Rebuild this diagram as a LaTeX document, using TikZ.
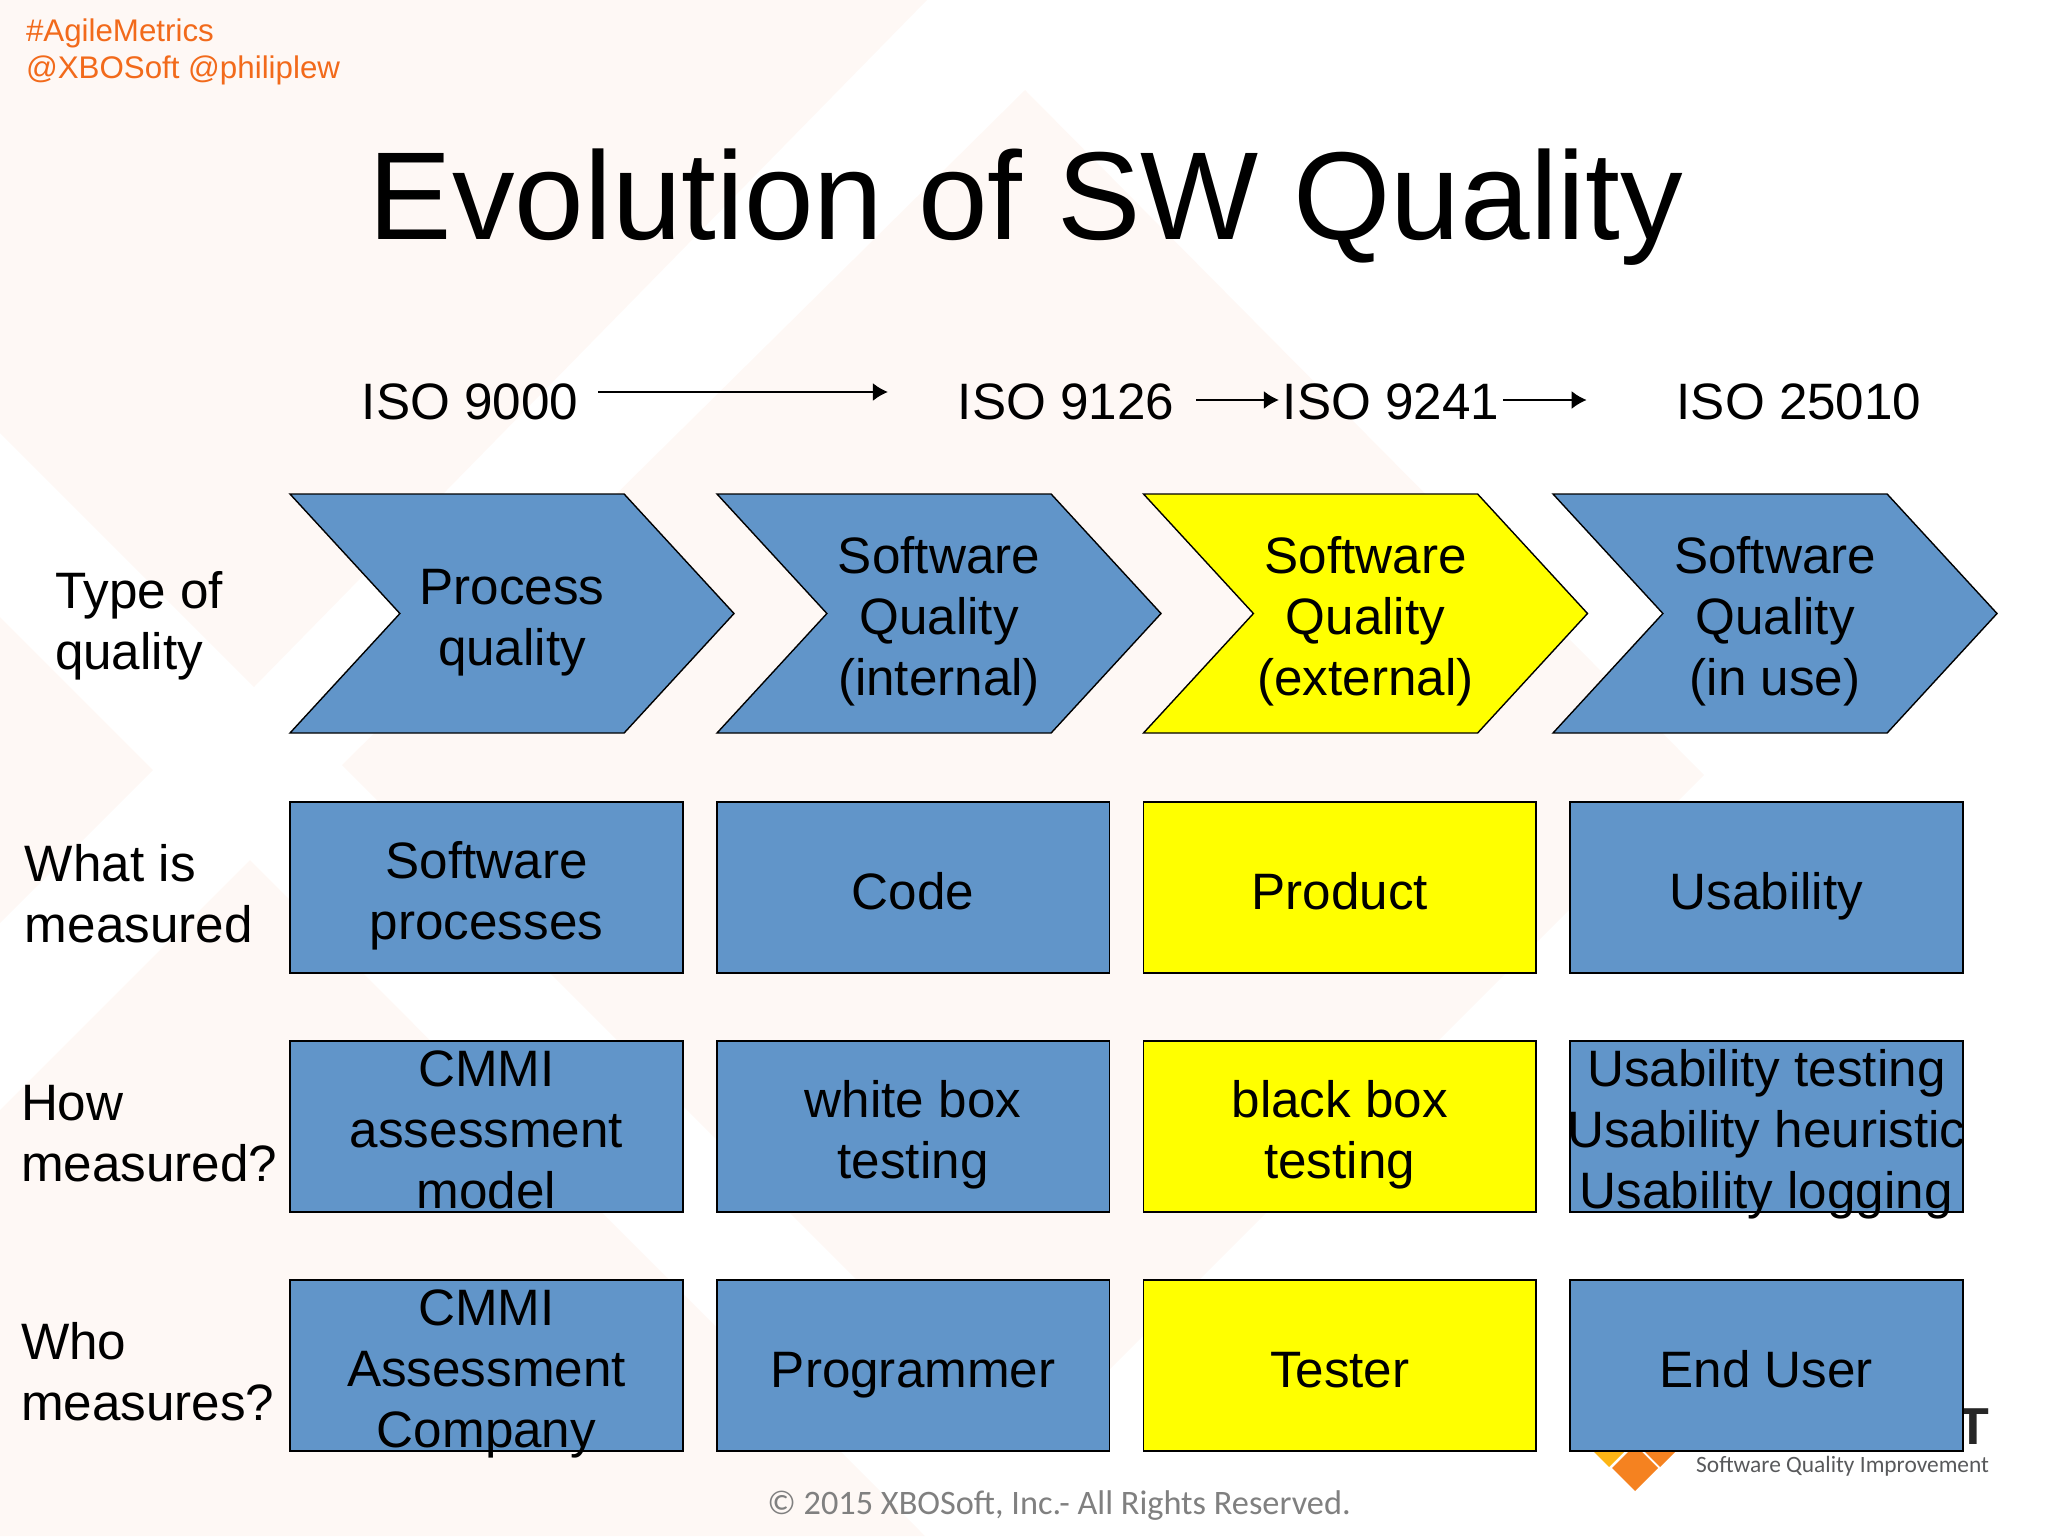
\documentclass[tikz,border=0pt]{standalone}
\usepackage{fontspec}
\setmainfont{Liberation Sans}
\newfontfamily\footfont{Carlito}
\usetikzlibrary{arrows.meta,positioning,shapes.symbols}
\definecolor{boxblue}{HTML}{6195C9}
\definecolor{boxyellow}{HTML}{FFFF00}
\definecolor{blush}{HTML}{FEF8F5}
\definecolor{tagorange}{HTML}{F26A1B}
\definecolor{logotext}{HTML}{58595B}
\definecolor{logoamber}{HTML}{FDB515}
\definecolor{logoorange}{HTML}{F58220}
\newcommand{\qstrut}{\rule[-6pt]{0pt}{33.5pt}}

\begin{document}
\begin{tikzpicture}[x=0.5pt,y=-0.5pt,>={Latex[length=7.5pt,width=9pt]},node distance=34pt and 17pt,
	every node/.style={inner sep=0pt,outer sep=0pt,align=center,font=\fontsize{25.6}{30.4}\selectfont},
	linetext/.style={execute at begin node=\qstrut,execute at end node=\qstrut},
	manylines/.style={execute at begin node=\rule{0pt}{#1}},
	twolines/.style={manylines=57.5pt},
	threelines/.style={manylines=88pt},
	every label/.style={align=center,linetext,threelines},
	qualitybox/.style={linetext,draw=black,line width=0.9pt,minimum width=196.3pt,minimum height=85.5pt},
	qualityarrow/.style={linetext,signal,signal from=west,signal to=east,signal pointer angle=94.8,
		draw=black,line width=0.7pt,minimum width=222pt,minimum height=119.5pt},
	isoname/.style={linetext,anchor=base},
	isoarrow/.style={->,line width=0.9pt},
	rowname/.style={linetext,twolines,anchor=west,align=left},
	blue/.style={fill=boxblue},
	yel/.style={fill=boxyellow}]
	\useasboundingbox (0,0) rectangle (2048,1536);

	\fill[blush] (0,0) -- (927,0) -- (254,687) -- (0,433) -- cycle;
	\fill[blush] (1025,90) -- (1704,775) -- (1028,1451) -- (342,765) -- cycle;
	\fill[blush] (0,617) -- (153,770) -- (0,923) -- cycle;
	\fill[blush] (250,860) -- (925,1536) -- (0,1536) -- (0,1110) -- cycle;

	% logo behind the last box
	\fill[logoamber] (1609,1421) -- (1632,1444) -- (1609,1467) -- (1586,1444) -- cycle;
	\fill[logoorange] (1660,1421) -- (1683,1444) -- (1660,1467) -- (1637,1444) -- cycle;
	\fill[logoorange] (1635,1445) -- (1658,1468) -- (1635,1491) -- (1612,1468) -- cycle;
	\node[anchor=base east,font=\fontsize{26}{30}\selectfont\bfseries,text=black!85] (logoT) at (1989,1444) {T};
	\node[anchor=base east,font=\fontsize{11.7}{14}\footfont,text=logotext] (logotag) at (1989,1472) {Software Quality Improvement};

	\node[anchor=north west,align=left,font=\fontsize{15.65}{18.3}\selectfont,text=tagorange] (tags) at (26,19) {\#AgileMetrics\\@XBOSoft @philiplew};
	\node[anchor=base,font=\fontsize{62.55}{70}\selectfont] (title) at (1026,239) {Evolution of SW Quality};

	\node[isoname] (iso9000) at (470,419) {ISO 9000};
	\node[isoname] (iso9126) at (1066,419) {ISO 9126};
	\node[isoname] (iso9241) at (1391,419) {ISO 9241};
	\node[isoname] (iso25010) at (1799,419) {ISO 25010};

	\draw[isoarrow,shorten <=10pt,shorten >=35pt] ([yshift=2.75pt]iso9000.east) -- ([yshift=2.75pt]iso9126.west);
	\draw[isoarrow,shorten <=11pt,shorten >=2pt] ([yshift=-1.25pt]iso9126.east) -- ([yshift=-1.25pt]iso9241.west);
	\draw[isoarrow,shorten <=2pt,shorten >=45pt] ([yshift=-1.25pt]iso9241.east) -- ([yshift=-1.25pt]iso25010.west);

	\node[qualityarrow,twolines,blue] (process) at (512,613.5) {Process\\quality};
	\node[qualityarrow,threelines,blue] (internal) at (939,613.5) {Software\\Quality\\(internal)};
	\node[qualityarrow,threelines,yel] (external) at (1365.5,613.5) {Software\\Quality\\(external)};
	\node[qualityarrow,threelines,blue] (inuse) at (1775,613.5) {Software\\Quality\\(in use)};

	\node[qualitybox,twolines,blue] (what1) at (486.5,887.5) {Software\\processes};
	\node[qualitybox,blue,right=of what1] (what2) {Code};
	\node[qualitybox,yel,right=of what2] (what3) {Product};
	\node[qualitybox,blue,right=of what3] (what4) {Usability};

	\node[qualitybox,blue,below=of what1,label={center:CMMI\\assessment\\model}] (how1) {};
	\node[qualitybox,twolines,blue,right=of how1] (how2) {white box\\testing};
	\node[qualitybox,twolines,yel,right=of how2] (how3) {black box\\testing};
	\node[qualitybox,blue,right=of how3,label={center:Usability testing\\Usability heuristic\\Usability logging}] (how4) {};

	\node[qualitybox,blue,below=of how1,label={center:CMMI\\Assessment\\Company}] (who1) {};
	\node[qualitybox,blue,right=of who1] (who2) {Programmer};
	\node[qualitybox,yel,right=of who2] (who3) {Tester};
	\node[qualitybox,blue,right=of who3] (who4) {End User};

	\node[rowname] (typelabel) at (55,617.5) {Type of\\quality};
	\node[rowname] (whatlabel) at (25,890.5) {What is\\measured};
	\node[rowname] (howlabel) at (21,1129.5) {How\\measured?};
	\node[rowname] (wholabel) at (21,1368.5) {Who\\measures?};

	\node[anchor=base,font=\fontsize{17.15}{20}\footfont,text=black!50] (rights) at (1059,1514) {© 2015 XBOSoft, Inc.- All Rights Reserved.};
\end{tikzpicture}
\end{document}
